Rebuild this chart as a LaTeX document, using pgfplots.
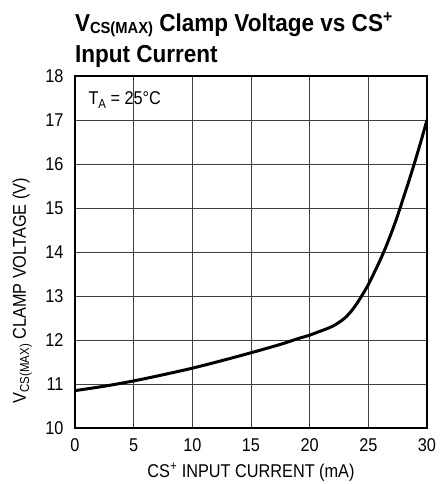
\documentclass[border=0pt]{standalone}
\usepackage{fontspec}
\setmainfont{Liberation Sans}[FakeStretch=0.88]
\newfontfamily\titlefont{Liberation Sans}[FakeStretch=0.92]
\usepackage{pgfplots}
\pgfplotsset{compat=1.18}
\newcommand{\lbl}{\fontsize{18.5}{20}\selectfont}

\begin{document}
\begin{tikzpicture}
\begin{axis}[
    at={(0pt,0pt)}, anchor=south west,
    scale only axis,
    width=352pt, height=352pt,
    xmin=0, xmax=30, ymin=10, ymax=18,
    xtick={0,5,...,30}, ytick={10,11,...,18},
    grid=major,
    major grid style={black!75, line width=0.8pt},
    axis line style={black, line width=1.6pt},
    major tick length=0pt,
    /pgf/number format/assume math mode=true,
    tick label style={font=\lbl},
    xticklabel style={anchor=north, yshift=-7pt},
    yticklabel style={anchor=east, xshift=-8pt},
    xlabel={CS\textsuperscript{+} INPUT CURRENT (mA)},
    xlabel style={font=\lbl, at={(axis description cs:0.5,0)}, anchor=base, yshift=-49pt},
    ylabel={V\raisebox{-0.18em}{\fontsize{13}{13}\selectfont CS(MAX)} CLAMP VOLTAGE (V)},
    ylabel style={font=\lbl,
        at={(axis description cs:-0.15,0.39)}, anchor=center},
    title={V\raisebox{-0.08em}{\fontsize{16}{16}\selectfont CS(MAX)} Clamp Voltage vs CS\textsuperscript{+}\\Input Current},
    title style={font=\titlefont\bfseries\fontsize{24.5}{31}\selectfont, align=left,
        at={(axis description cs:-0.01,1)}, anchor=south west, yshift=-1pt},
]
\addplot[black, line width=3pt, smooth] coordinates {
    (0,10.85) (2.5,10.95) (5,11.07) (7.5,11.21) (10,11.36) (12.5,11.53)
    (15,11.71) (17.5,11.9) (19,12.03) (19.5,12.07) (20,12.11) (20.5,12.16)
    (21,12.21) (21.5,12.26) (22,12.32) (22.5,12.40) (23,12.50) (23.5,12.64)
    (24,12.82) (24.5,13.03) (25,13.26) (25.5,13.53) (26,13.81) (26.5,14.12)
    (27,14.46) (27.5,14.83) (28,15.24) (28.5,15.65) (29,16.08) (29.5,16.53)
    (30,17.0)
};
\node[anchor=base west, font=\lbl]
    at (axis cs:0.85,17.35) {T\raisebox{-0.2em}{\fontsize{13}{13}\selectfont A} = 25°C};
\end{axis}
\pgfresetboundingbox
\path[use as bounding box] (-75pt,-56pt) rectangle (366pt,428pt);
\end{tikzpicture}
\end{document}
